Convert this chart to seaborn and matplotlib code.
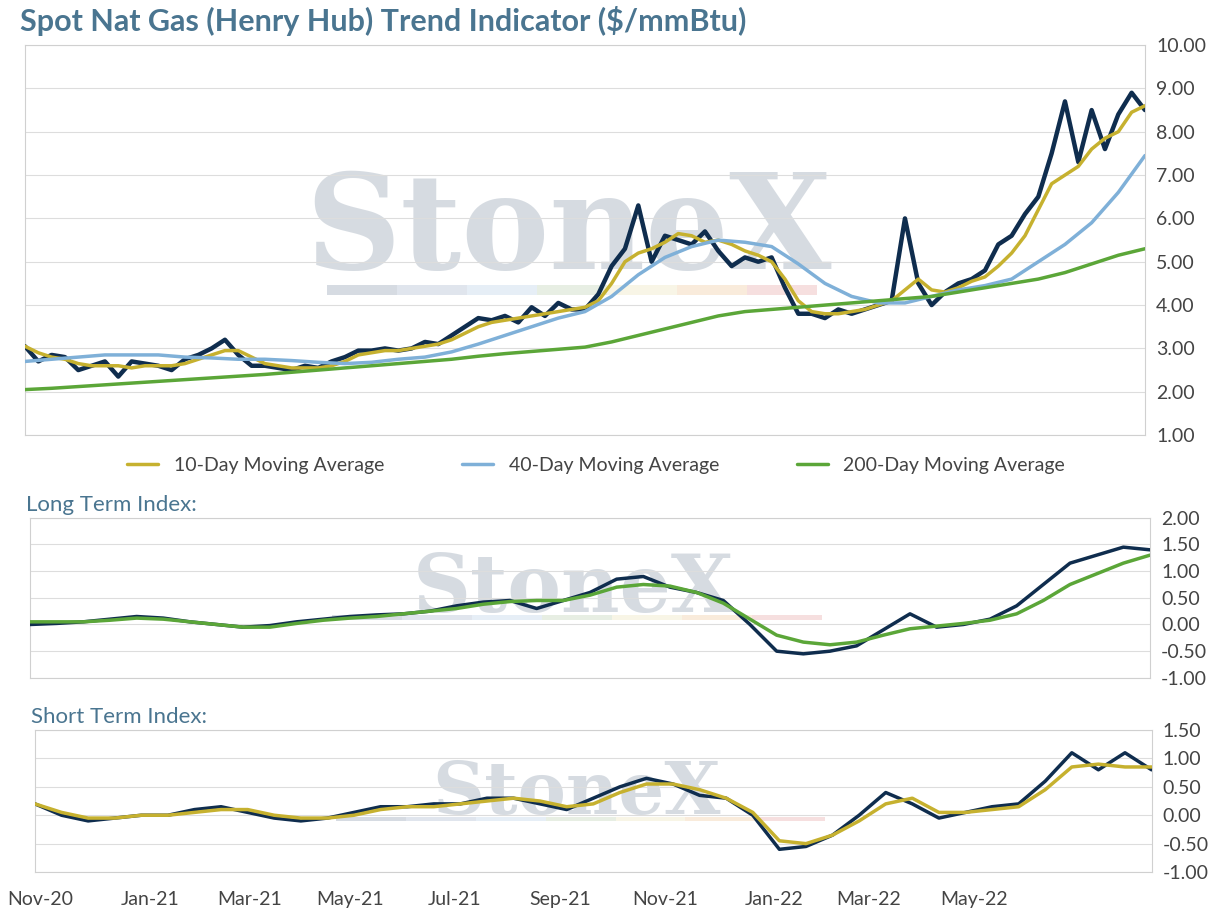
import numpy as np
import matplotlib
matplotlib.use("Agg")
import matplotlib.pyplot as plt
import seaborn as sns

sns.set_style("white")
plt.rcParams['font.family'] = ['Lato', 'DejaVu Sans']

spot = [3.05,2.7,2.85,2.8,2.5,2.6,2.7,2.35,2.7,2.65,2.6,2.5,2.75,2.85,3.0,3.2,2.85,2.6,2.6,2.55,
        2.5,2.6,2.55,2.7,2.8,2.95,2.95,3.0,2.95,3.0,3.15,3.1,3.3,3.5,3.7,3.65,3.75,3.6,3.95,3.75,
        4.05,3.9,3.9,4.25,4.9,5.3,6.3,5.0,5.6,5.5,5.4,5.7,5.25,4.9,5.1,5.0,5.1,4.4,3.8,3.8,
        3.7,3.9,3.8,3.9,4.0,4.1,6.0,4.5,4.0,4.3,4.5,4.6,4.8,5.4,5.6,6.1,6.5,7.5,8.7,7.3,
        8.5,7.6,8.4,8.9,8.5]
ma10 = [3.05,2.9,2.8,2.75,2.65,2.6,2.6,2.6,2.55,2.6,2.6,2.6,2.65,2.75,2.85,2.95,2.95,2.8,2.65,2.6,
        2.55,2.55,2.55,2.6,2.7,2.85,2.9,2.95,2.95,3.0,3.05,3.1,3.2,3.35,3.5,3.6,3.65,3.7,3.75,3.8,
        3.85,3.9,3.95,4.1,4.5,5.0,5.2,5.3,5.45,5.65,5.6,5.45,5.5,5.4,5.25,5.15,5.0,4.6,4.1,3.85,
        3.8,3.8,3.85,3.9,4.0,4.1,4.35,4.6,4.35,4.3,4.4,4.55,4.65,4.9,5.2,5.6,6.2,6.8,7.0,7.2,
        7.6,7.85,8.0,8.45,8.6]
ma40 = [2.7,2.75,2.8,2.85,2.85,2.85,2.8,2.78,2.75,2.75,2.72,2.68,2.65,2.68,2.75,2.8,2.92,3.1,3.3,3.5,
        3.7,3.85,4.2,4.7,5.1,5.35,5.5,5.45,5.35,4.95,4.5,4.2,4.05,4.05,4.2,4.35,4.45,4.6,5.0,5.4,
        5.9,6.6,7.45]
ma200 = [2.05,2.08,2.12,2.16,2.2,2.24,2.28,2.32,2.36,2.4,2.45,2.5,2.55,2.6,2.65,2.7,2.75,2.82,2.88,2.93,
         2.98,3.03,3.15,3.3,3.45,3.6,3.75,3.85,3.9,3.95,4.0,4.05,4.1,4.15,4.2,4.3,4.4,4.5,4.6,4.75,
         4.95,5.15,5.3]
long_idx = [0.0,0.02,0.05,0.1,0.15,0.12,0.05,0.0,-0.05,-0.02,0.05,0.1,0.15,0.18,0.2,0.25,0.35,0.42,0.45,0.3,
            0.45,0.6,0.85,0.9,0.7,0.6,0.45,0.0,-0.5,-0.55,-0.5,-0.4,-0.1,0.2,-0.05,0.0,0.1,0.35,0.75,1.15,
            1.3,1.45,1.4]
long_sig = [0.05,0.05,0.05,0.08,0.12,0.1,0.05,0.0,-0.05,-0.05,0.02,0.08,0.12,0.15,0.2,0.25,0.3,0.38,0.43,0.45,
            0.45,0.55,0.7,0.75,0.72,0.6,0.4,0.1,-0.2,-0.33,-0.38,-0.33,-0.2,-0.08,-0.03,0.02,0.08,0.2,0.45,0.75,
            0.95,1.15,1.3]
short_idx = [0.2,0.0,-0.1,-0.05,0.0,0.0,0.1,0.15,0.05,-0.05,-0.1,-0.05,0.05,0.15,0.15,0.2,0.2,0.3,0.3,0.2,
             0.1,0.3,0.5,0.65,0.55,0.35,0.3,0.0,-0.6,-0.55,-0.35,0.0,0.4,0.2,-0.05,0.05,0.15,0.2,0.6,1.1,
             0.8,1.1,0.8]
short_sig = [0.2,0.05,-0.05,-0.05,0.0,0.0,0.05,0.1,0.1,0.0,-0.05,-0.05,0.0,0.1,0.15,0.15,0.2,0.25,0.3,0.25,
             0.15,0.2,0.4,0.55,0.55,0.45,0.3,0.05,-0.45,-0.5,-0.35,-0.1,0.2,0.3,0.05,0.05,0.1,0.15,0.45,0.85,
             0.9,0.85,0.85]
month_labels = ["Nov-20","Jan-21","Mar-21","May-21","Jul-21","Sep-21","Nov-21","Jan-22","Mar-22","May-22"]
month_pos = [0.005,0.103,0.192,0.282,0.376,0.47,0.564,0.662,0.747,0.841]

NAVY = "#0f2d4e"; GOLD = "#c6b12f"; BLUE = "#7fb0d8"; GREEN = "#5ba638"
TXT = "#4a7590"
STRIP = ["#c5ccd6", "#d3dbe6", "#dce8f3", "#dde8d8", "#f6f1dc", "#f7e3cc", "#f3d2d2"]

fig = plt.figure(figsize=(12.23, 9.16), dpi=100)
ax1 = fig.add_axes([0.0204, 0.525, 0.9158, 0.4258])
ax2 = fig.add_axes([0.0245, 0.26, 0.9158, 0.1747])
ax3 = fig.add_axes([0.0286, 0.048, 0.913, 0.155])

def xs(a):
    return np.linspace(0, 1, len(a))

for ax, fs, ty, sy, sh in ((ax1, 95, 0.52, 0.36, 0.025), (ax2, 58, 0.55, 0.36, 0.03), (ax3, 52, 0.55, 0.36, 0.03)):
    ax.text(0.485, ty, "StoneX", transform=ax.transAxes, ha="center", va="center",
            fontsize=fs, family="DejaVu Serif", fontweight="bold", color="#c9d0d8", alpha=0.75, zorder=0)
    for k, c in enumerate(STRIP):
        ax.axvspan(0.27 + k * 0.0625, 0.27 + (k + 1) * 0.0625, ymin=sy, ymax=sy + sh, color=c, alpha=0.7, lw=0, zorder=0)

sns.lineplot(x=xs(spot), y=spot, ax=ax1, color=NAVY, lw=3.2, zorder=3)
sns.lineplot(x=xs(ma10), y=ma10, ax=ax1, color=GOLD, lw=2.5, label="10-Day Moving Average", zorder=4)
sns.lineplot(x=xs(ma40), y=ma40, ax=ax1, color=BLUE, lw=2.5, label="40-Day Moving Average", zorder=4)
sns.lineplot(x=xs(ma200), y=ma200, ax=ax1, color=GREEN, lw=2.5, label="200-Day Moving Average", zorder=4)
ax1.set_ylim(1, 10)
ax1.set_yticks(np.arange(1, 11))
ax1.set_yticklabels([f"{v:.2f}" for v in range(1, 11)])
ax1.legend(loc="upper center", bbox_to_anchor=(0.51, -0.01), ncol=3, frameon=False,
           fontsize=14, handlelength=1.6, columnspacing=4, labelcolor="#444444")

sns.lineplot(x=xs(long_idx), y=long_idx, ax=ax2, color=NAVY, lw=2.5, zorder=3)
sns.lineplot(x=xs(long_sig), y=long_sig, ax=ax2, color=GREEN, lw=2.5, zorder=4)
ax2.set_ylim(-1, 2)
t2 = np.arange(-1, 2.01, 0.5)
ax2.set_yticks(t2); ax2.set_yticklabels([f"{v:.2f}" for v in t2])

sns.lineplot(x=xs(short_idx), y=short_idx, ax=ax3, color=NAVY, lw=2.5, zorder=3)
sns.lineplot(x=xs(short_sig), y=short_sig, ax=ax3, color=GOLD, lw=2.5, zorder=4)
ax3.set_ylim(-1, 1.5)
t3 = np.arange(-1, 1.51, 0.5)
ax3.set_yticks(t3); ax3.set_yticklabels([f"{v:.2f}" for v in t3])

for ax in (ax1, ax2, ax3):
    ax.set_xlim(0, 1)
    ax.yaxis.tick_right()
    ax.tick_params(axis="y", labelsize=14, labelcolor="#444444", length=0, pad=8)
    ax.grid(axis="y", color="#dddddd", lw=0.8)
    for s in ax.spines.values():
        s.set_color("#d0d0d0")
    ax.set_xticks([])

ax3.set_xticks(month_pos)
ax3.set_xticklabels(month_labels)
ax3.tick_params(axis="x", labelsize=14, labelcolor="#444444", length=0, pad=14)

fig.text(0.016, 0.977, "Spot Nat Gas (Henry Hub) Trend Indicator ($/mmBtu)", fontsize=22,
         fontweight="bold", color=TXT, va="center")
fig.text(0.021, 0.449, "Long Term Index:", fontsize=16, color=TXT, va="center")
fig.text(0.025, 0.217, "Short Term Index:", fontsize=16, color=TXT, va="center")

fig.savefig("out.png", dpi=100)
